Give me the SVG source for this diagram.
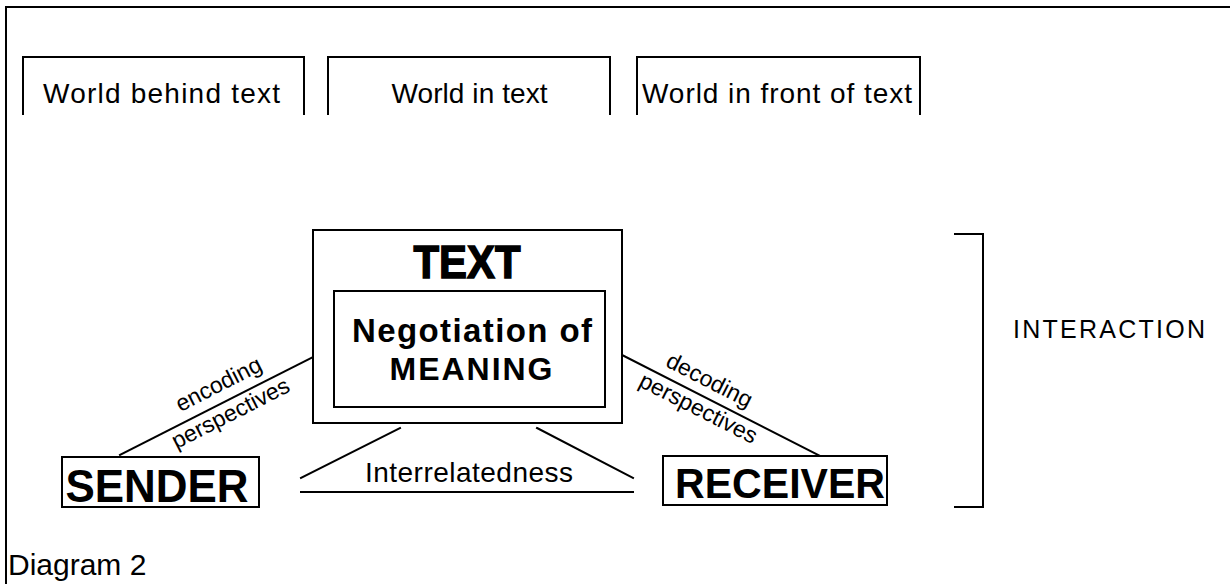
<svg xmlns="http://www.w3.org/2000/svg" width="1230" height="584" viewBox="0 0 1230 584">
<style>
.ln{fill:none;stroke:#000;stroke-width:2;stroke-linecap:square}
.bx{fill:#fff;stroke:#000;stroke-width:2}
.t{font-family:"Liberation Sans",Arial,Helvetica,sans-serif;fill:#000}
.b{font-weight:bold}
.m{text-anchor:middle}
</style>
<rect width="1230" height="584" fill="#fff"/>
<g id="frame">
<path class="ln" d="M6,584 V7 H1230"/>
</g>
<g id="world-behind">
<path class="ln" d="M23,114 V57 H304 V114"/>
<text class="t m" x="161.5" y="103" font-size="28" textLength="237">World behind text</text>
</g>
<g id="world-in">
<path class="ln" d="M328,114 V57 H610 V114"/>
<text class="t m" x="469.5" y="103" font-size="28" textLength="156">World in text</text>
</g>
<g id="world-front">
<path class="ln" d="M637,114 V57 H920 V114"/>
<text class="t m" x="777" y="103" font-size="28" textLength="270">World in front of text</text>
</g>
<g id="connectors">
<line class="ln" x1="120" y1="455" x2="313" y2="357"/>
<line class="ln" x1="622" y1="355" x2="820" y2="456"/>
<line class="ln" x1="301" y1="478" x2="400" y2="428"/>
<line class="ln" x1="301" y1="492" x2="633" y2="492"/>
<line class="ln" x1="537" y1="428" x2="633" y2="478"/>
<text class="t m" font-size="23" transform="translate(222,391) rotate(-27)">encoding</text>
<text class="t m" font-size="23" transform="translate(234,420) rotate(-27)">perspectives</text>
<text class="t m" font-size="23" transform="translate(706,387) rotate(27)">decoding</text>
<text class="t m" font-size="23" transform="translate(695,415) rotate(27)">perspectives</text>
<text class="t m" x="469" y="482" font-size="28" textLength="208">Interrelatedness</text>
</g>
<g id="text-node">
<rect class="bx" x="313" y="230" width="309" height="193"/>
<text class="t b m" x="467" y="278" font-size="46" textLength="107" lengthAdjust="spacingAndGlyphs" stroke="#000" stroke-width="1.5">TEXT</text>
</g>
<g id="meaning-node">
<rect class="bx" x="334" y="291" width="271" height="116"/>
<text class="t b m" x="472" y="342" font-size="33" textLength="240">Negotiation of</text>
<text class="t b m" x="471" y="380" font-size="32" textLength="163">MEANING</text>
</g>
<g id="sender">
<rect class="bx" x="62" y="457" width="197" height="50"/>
<text class="t b m" x="157" y="502" font-size="47" textLength="183" lengthAdjust="spacingAndGlyphs">SENDER</text>
</g>
<g id="receiver">
<rect class="bx" x="663" y="456" width="224" height="49"/>
<text class="t b m" x="780" y="498" font-size="42" textLength="210" lengthAdjust="spacingAndGlyphs">RECEIVER</text>
</g>
<g id="interaction">
<path class="ln" d="M955,234 H983 V507 H955"/>
<text class="t" x="1013" y="338" font-size="25" textLength="192">INTERACTION</text>
</g>
<g id="caption">
<text class="t" x="8" y="575" font-size="30">Diagram 2</text>
</g>
</svg>
